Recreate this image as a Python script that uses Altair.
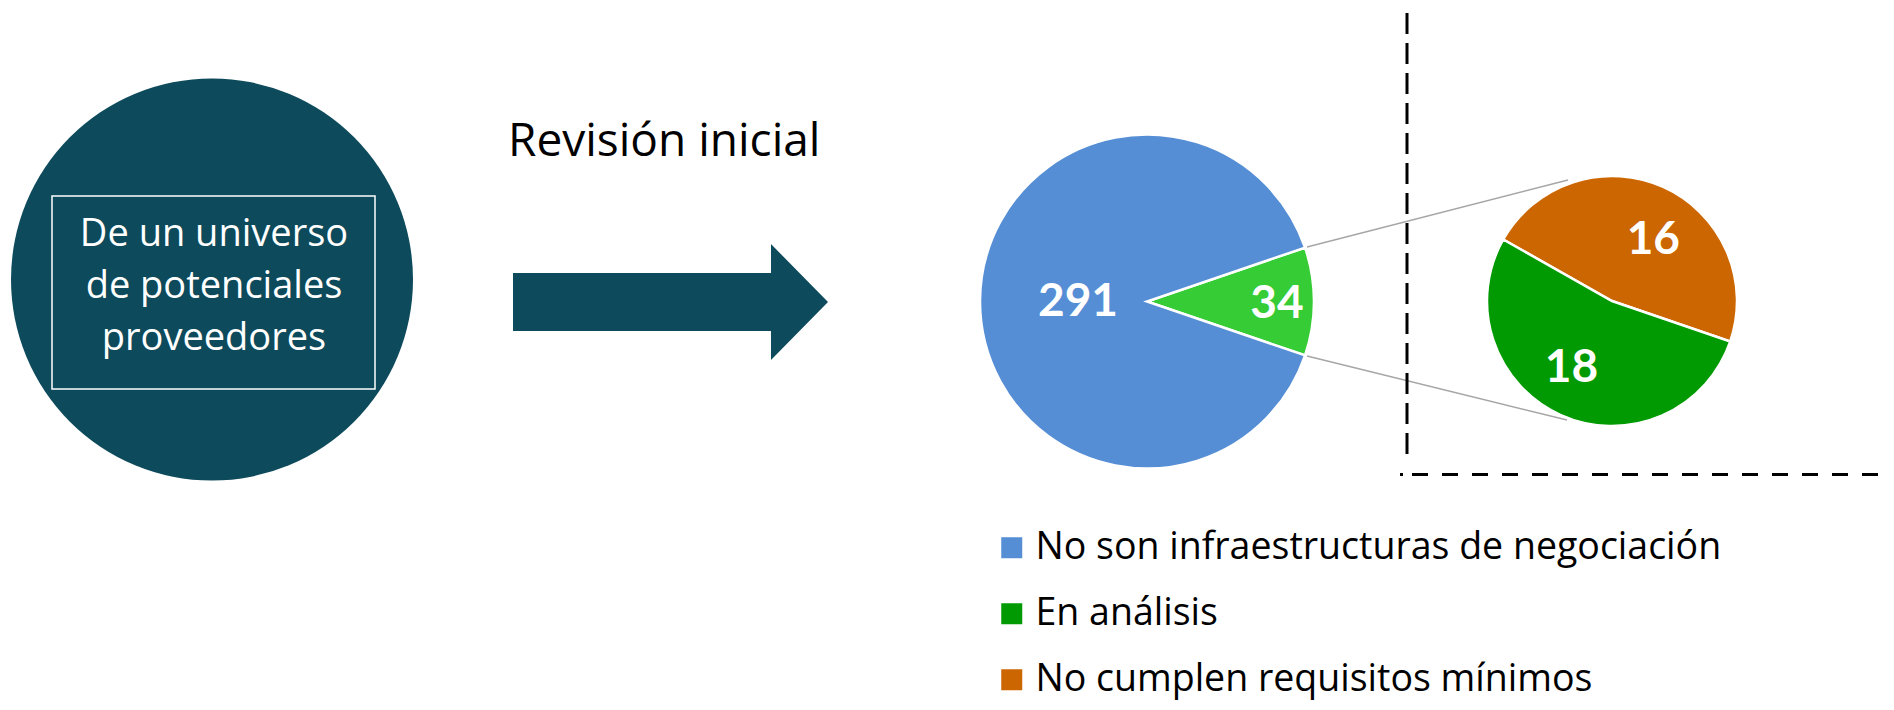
import math
import altair as alt
import pandas as pd

# ---------------- data ----------------
circle_lines = ["De un universo", "de potenciales", "proveedores"]
title_text = "Revisión inicial"

main_categories = ["En análisis", "No son infraestructuras de negociación"]
main_values = [34, 291]
main_colors = ["#36CC36", "#558ED5"]

detail_categories = ["No cumplen requisitos mínimos", "En análisis"]
detail_values = [16, 18]

legend_categories = ["No son infraestructuras de negociación", "En análisis",
                     "No cumplen requisitos mínimos"]
legend_colors = ["#558ED5", "#029A02", "#CC6600"]

DARK = "#0D4A5B"
W, H = 1878, 694
TEXT_FONT = "Open Sans"


def pie_df(cats, vals):
    return pd.DataFrame({"cat": cats, "value": vals, "ord": list(range(len(cats)))})


def theta_enc(start):
    return alt.Theta("value:Q", stack=True,
                     scale=alt.Scale(range=[start, start + 2 * math.pi]))


def label_layer(df, cat, start, cx, cy, r, dx=0, dy=0):
    return alt.Chart(df).mark_text(
        radius=r, font="Lato", fontWeight="bold", fontSize=46, color="white",
        align="center", baseline="middle", dx=dx, dy=dy
    ).encode(
        x=alt.value(cx), y=alt.value(cy),
        theta=theta_enc(start),
        order=alt.Order("ord:Q"),
        text=alt.condition(alt.datum.cat == cat, alt.Text("value:Q"), alt.value("")),
    )


one = pd.DataFrame({"k": [0]})

# ---------------- left circle ----------------
circle = alt.Chart(one).mark_circle(size=402 * 402, color=DARK, opacity=1).encode(
    x=alt.value(204), y=alt.value(271.5))
box = alt.Chart(one).mark_rect(fill=None, stroke="white", strokeWidth=1.5).encode(
    x=alt.value(44), x2=alt.value(367), y=alt.value(188), y2=alt.value(381))
circle_text = alt.Chart(one).mark_text(
    font=TEXT_FONT, fontSize=38, color="white", align="center", baseline="alphabetic",
    lineHeight=52
).encode(x=alt.value(206), y=alt.value(237.5), text=alt.value(circle_lines))

# ---------------- title + arrow ----------------
title = alt.Chart(pd.DataFrame({"t": [title_text]})).mark_text(
    font=TEXT_FONT, fontSize=46, color="black", align="left", baseline="alphabetic"
).encode(x=alt.value(500), y=alt.value(148), text="t:N")

arrow_path = ("M -1 -0.184 L 0.638 -0.184 L 0.638 -0.368 L 1 0 "
              "L 0.638 0.368 L 0.638 0.184 L -1 0.184 Z")
arrow = alt.Chart(one).mark_point(
    shape=arrow_path, size=315 * 315, filled=True, fill=DARK, opacity=1, strokeWidth=0
).encode(x=alt.value(662.5), y=alt.value(294))

# ---------------- main pie ----------------
main_df = pie_df(main_categories, main_values)
main_span = 2 * math.pi * main_values[0] / sum(main_values)
main_start = math.pi / 2 - main_span / 2
mx, my, mr = 1139, 293.5, 167

main_arc = alt.Chart(main_df).mark_arc(radius=mr, stroke="white", strokeWidth=2.5).encode(
    x=alt.value(mx), y=alt.value(my),
    theta=theta_enc(main_start),
    color=alt.Color("cat:N", scale=alt.Scale(domain=main_categories, range=main_colors),
                    legend=None),
    order=alt.Order("ord:Q"),
)
main_pie = alt.layer(
    main_arc,
    label_layer(main_df, main_categories[1], main_start, mx, my, 69),
    label_layer(main_df, main_categories[0], main_start, mx, my, 130, dy=2),
)

# ---------------- connectors and dashed frame ----------------
conn_top = alt.Chart(one).mark_rule(color="#A6A6A6", strokeWidth=1.5).encode(
    x=alt.value(1299), y=alt.value(239), x2=alt.value(1560), y2=alt.value(172))
conn_bot = alt.Chart(one).mark_rule(color="#A6A6A6", strokeWidth=1.5).encode(
    x=alt.value(1299), y=alt.value(348), x2=alt.value(1559), y2=alt.value(412))
vdash = alt.Chart(one).mark_rule(color="black", strokeWidth=3, strokeDash=[21, 9]).encode(
    x=alt.value(1399), y=alt.value(5), y2=alt.value(450))
hdot = alt.Chart(one).mark_rule(color="black", strokeWidth=3).encode(
    x=alt.value(1392), x2=alt.value(1395), y=alt.value(466.5))
hdash = alt.Chart(one).mark_rule(color="black", strokeWidth=3, strokeDash=[16, 14]).encode(
    x=alt.value(1404), x2=alt.value(W), y=alt.value(466.5))

# ---------------- detail pie ----------------
det_df = pie_df(detail_categories, detail_values)
det_start = 5.227
dx_, dy_, dr = 1604, 293, 125

det_arc = alt.Chart(det_df).mark_arc(radius=dr, stroke="white", strokeWidth=2.5).encode(
    x=alt.value(dx_), y=alt.value(dy_),
    theta=theta_enc(det_start),
    color=alt.Color(
        "cat:N",
        scale=alt.Scale(domain=legend_categories, range=legend_colors),
        legend=alt.Legend(
            orient="none", legendX=985, legendY=521, title=None, direction="vertical",
            symbolType="square", symbolSize=441, symbolStrokeWidth=0, symbolOpacity=1,
            labelFont=TEXT_FONT, labelFontSize=37.5, labelColor="black", labelOffset=5,
            rowPadding=27, padding=0, labelLimit=1200,
        ),
    ),
    order=alt.Order("ord:Q"),
)
det_pie = alt.layer(
    det_arc,
    label_layer(det_df, detail_categories[0], det_start, dx_, dy_, 74, dx=11, dy=7),
    label_layer(det_df, detail_categories[1], det_start, dx_, dy_, 77, dx=-9, dy=-3),
)

chart = alt.layer(
    circle, box, circle_text, title, arrow,
    conn_top, conn_bot, vdash, hdot, hdash,
    main_pie, det_pie,
).resolve_scale(
    theta="independent", color="independent"
).properties(
    width=W, height=H, padding=0, autosize=alt.AutoSizeParams(type="none")
).configure_view(strokeWidth=0)

chart.save("out.html", embed_options={"renderer": "svg", "actions": False})
